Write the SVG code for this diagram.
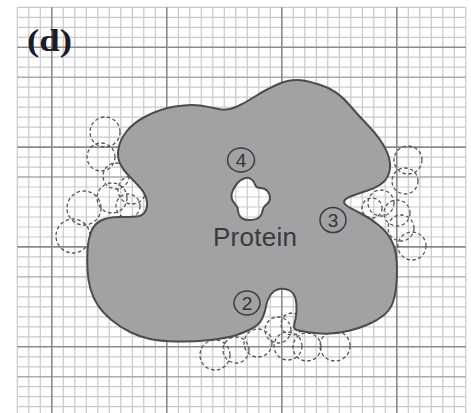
<svg xmlns="http://www.w3.org/2000/svg" width="471" height="413" viewBox="0 0 471 413">
  <style>
    .minor { stroke: #c9c9c9; stroke-width: 1.2; fill: none; }
    .mid { stroke: #ababab; stroke-width: 1.4; fill: none; }
    .major { stroke: #8a8a8a; stroke-width: 1.6; fill: none; }
    .probe { fill: none; stroke: #555555; stroke-width: 1.3; stroke-dasharray: 3.5 2.5; }
    .body { fill: #a2a2a5; stroke: #4c4c4c; stroke-width: 2; fill-rule: evenodd; }
    .site { fill: none; stroke: #3c3c3c; stroke-width: 1.5; }
    .num { font-family: "Liberation Sans", Arial, sans-serif; font-size: 19px; fill: #333; text-anchor: middle; }
  </style>

  <rect width="471" height="413" fill="#ffffff"/>

  <!-- graph-paper background -->
  <g id="grid">
    <path class="minor" d="M17.3 7.3V413 M28.8 7.3V413 M40.3 7.3V413 M63.3 7.3V413 M74.8 7.3V413 M86.3 7.3V413 M97.8 7.3V413 M109.3 7.3V413 M120.8 7.3V413 M132.3 7.3V413 M143.8 7.3V413 M155.3 7.3V413 M178.3 7.3V413 M189.8 7.3V413 M201.3 7.3V413 M212.8 7.3V413 M224.3 7.3V413 M235.8 7.3V413 M247.3 7.3V413 M258.8 7.3V413 M270.3 7.3V413 M293.3 7.3V413 M304.8 7.3V413 M316.3 7.3V413 M327.8 7.3V413 M339.3 7.3V413 M350.8 7.3V413 M362.3 7.3V413 M373.8 7.3V413 M385.3 7.3V413 M408.3 7.3V413 M419.8 7.3V413 M431.3 7.3V413 M442.8 7.3V413 M454.3 7.3V413 M465.8 7.3V413"/>
    <path class="minor" d="M17.3 7.3H465.8 M17.3 17.3H465.8 M17.3 27.3H465.8 M17.3 37.3H465.8 M17.3 57.2H465.8 M17.3 67.2H465.8 M17.3 87.2H465.8 M17.3 97.2H465.8 M17.3 107.2H465.8 M17.3 117.1H465.8 M17.3 127.1H465.8 M17.3 137.1H465.8 M17.3 157.1H465.8 M17.3 167.1H465.8 M17.3 187H465.8 M17.3 197H465.8 M17.3 207H465.8 M17.3 217H465.8 M17.3 227H465.8 M17.3 237H465.8 M17.3 256.9H465.8 M17.3 266.9H465.8 M17.3 286.9H465.8 M17.3 296.9H465.8 M17.3 306.9H465.8 M17.3 316.8H465.8 M17.3 326.8H465.8 M17.3 336.8H465.8 M17.3 356.8H465.8 M17.3 366.8H465.8 M17.3 386.7H465.8 M17.3 396.7H465.8 M17.3 406.7H465.8"/>
    <path class="mid" d="M17.3 77.2H465.8 M17.3 177H465.8 M17.3 276.9H465.8 M17.3 376.7H465.8"/>
    <path class="major" d="M51.8 7.3V413 M166.8 7.3V413 M281.8 7.3V413 M396.8 7.3V413 M17.3 47.2H465.8 M17.3 147.1H465.8 M17.3 246.9H465.8 M17.3 346.8H465.8"/>
  </g>

  <text id="panel-label" x="27" y="51" font-family="Liberation Serif, 'Times New Roman', serif" font-weight="bold" font-size="31" fill="#1c1c28" textLength="45" lengthAdjust="spacingAndGlyphs">(d)</text>

  <!-- dashed probe spheres around the surface pockets -->
  <g id="probes-left">
    <circle class="probe" cx="105" cy="132" r="15"/>
    <circle class="probe" cx="101" cy="157" r="14"/>
    <circle class="probe" cx="116" cy="176" r="13"/>
    <circle class="probe" cx="132" cy="190" r="14"/>
    <circle class="probe" cx="112" cy="198" r="15"/>
    <circle class="probe" cx="128" cy="206" r="12"/>
    <circle class="probe" cx="84" cy="208" r="17"/>
    <circle class="probe" cx="73" cy="236" r="17"/>
  </g>
  <g id="probes-right">
    <circle class="probe" cx="408" cy="160" r="14"/>
    <circle class="probe" cx="405" cy="181" r="13"/>
    <circle class="probe" cx="372" cy="208" r="10"/>
    <circle class="probe" cx="381" cy="203" r="13"/>
    <circle class="probe" cx="397" cy="213" r="13"/>
    <circle class="probe" cx="401" cy="228" r="13"/>
    <circle class="probe" cx="412" cy="246" r="14"/>
  </g>
  <g id="probes-bottom">
    <circle class="probe" cx="215" cy="355" r="15"/>
    <circle class="probe" cx="236" cy="350" r="13"/>
    <circle class="probe" cx="258" cy="343" r="14"/>
    <circle class="probe" cx="278" cy="330" r="13"/>
    <circle class="probe" cx="292" cy="324" r="11"/>
    <circle class="probe" cx="288" cy="346" r="14"/>
    <circle class="probe" cx="307" cy="347" r="14"/>
    <circle class="probe" cx="335" cy="346" r="15"/>
  </g>

  <!-- protein body with its buried cavity -->
  <g id="protein">
    <path class="body" d="M118.5 148.5 Q120 140 126.5 131.5 Q133 123 146.5 116 Q160 109 175 106.5 Q190 104 200 105.5 Q210 107 218.5 109 Q227 111 236 107 Q245 103 255 96.5 Q265 90 278.5 84 Q292 78 306 81 Q320 84 330 89 Q340 94 349 104.5 Q358 115 369 126.5 Q380 138 385.5 149 Q391 160 390 168.5 Q389 177 383.5 182 Q378 187 369 190 Q360 193 353 195.5 Q346 198 344.5 200.5 Q343 203 346.5 205.5 Q350 208 360 213 Q370 218 378.5 225 Q387 232 391 239.5 Q395 247 396 254.5 Q397 262 397 271 Q397 280 396 288.5 Q395 297 392.5 303.5 Q390 310 384 315 Q378 320 369 324 Q360 328 350 330.5 Q340 333 330 333.5 Q320 334 310 332.5 Q300 331 296.5 330 Q293 329 294.5 323.5 Q296 318 296.5 311 Q297 304 295.5 298.5 Q294 293 289.5 290.5 Q285 288 279.5 289 Q274 290 270.5 295 Q267 300 266 306.5 Q265 313 262 319 Q259 325 251 329 Q243 333 235 335.5 Q227 338 210 340 Q193 342 176.5 341.5 Q160 341 150 339 Q140 337 130 332 Q120 327 111.5 320 Q103 313 98 305.5 Q93 298 90.5 289 Q88 280 87.5 270 Q87 260 87.5 250 Q88 240 91 232 Q94 224 101 220.5 Q108 217 119 217 Q130 217 136.5 216.5 Q143 216 145.5 211 Q148 206 146.5 199.5 Q145 193 140 187.5 Q135 182 129 176 Q123 170 120 163.5 Q117 157 118.5 148.5 Z
      M233 190 Q235 186 237.5 183 Q240 180 244 178.5 Q248 177 251 179 Q254 181 255 184.5 Q256 188 260.5 188 Q265 188 267.5 191 Q270 194 270 198 Q270 202 266.5 204.5 Q263 207 262.5 211 Q262 215 259 217.5 Q256 220 249.5 220 Q243 220 240.5 217 Q238 214 238 210.5 Q238 207 235 204 Q232 201 231.5 197.5 Q231 194 233 190 Z"/>
    <text x="213" y="246" font-family="Liberation Sans, Arial, sans-serif" font-size="26" fill="#3a3a3a" textLength="84">Protein</text>
  </g>

  <!-- numbered binding sites -->
  <g id="site-2">
    <ellipse class="site" cx="247" cy="303" rx="13" ry="12"/>
    <text class="num" x="247" y="309.5">2</text>
  </g>
  <g id="site-3">
    <ellipse class="site" cx="333" cy="220" rx="13" ry="12.5"/>
    <text class="num" x="333" y="226.5">3</text>
  </g>
  <g id="site-4">
    <ellipse class="site" cx="241" cy="160" rx="13.5" ry="12"/>
    <text class="num" x="241" y="166.5">4</text>
  </g>
</svg>
